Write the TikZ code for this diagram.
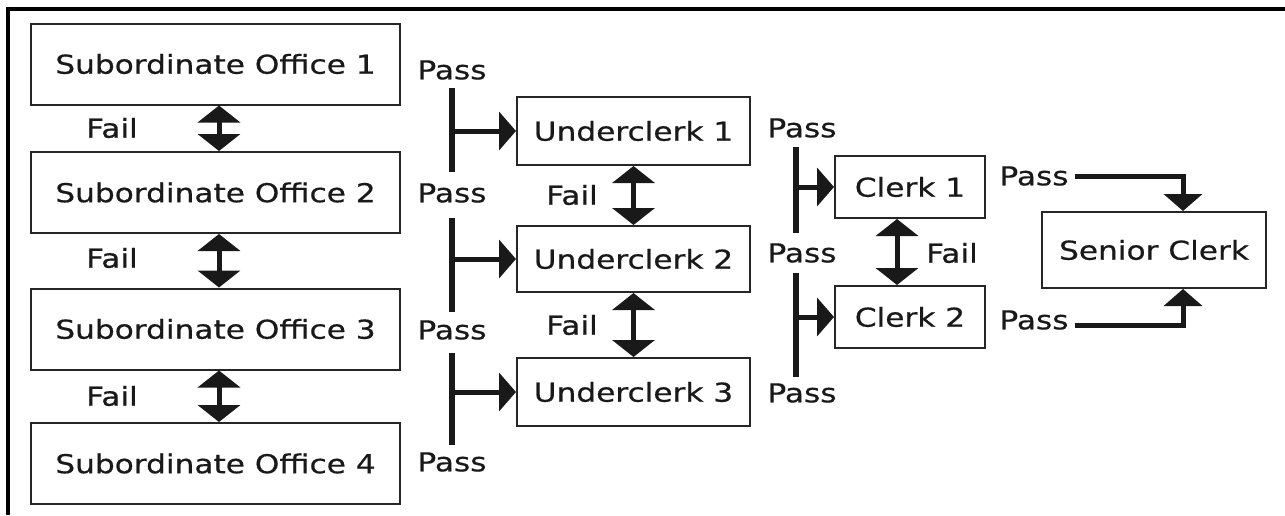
\documentclass[tikz,border=0pt]{standalone}
\usepackage{fontspec}
\setmainfont{DejaVu Sans}[FakeStretch=1.2,FakeBold=0.6]
\usetikzlibrary{arrows.meta}
\begin{document}
\begin{tikzpicture}[x=1pt,y=-1pt,
  txt/.style={font=\fontsize{26}{30}\selectfont, text=black!90},
  box/.style={txt, draw=black!85, line width=2pt, inner sep=0pt},
  lbl/.style={txt, inner sep=0pt},
  bar/.style={line width=6pt, black!90},
  flow/.style={line width=5pt, black!90, -{Triangle[width=38pt,length=17pt]}},
  dbl/.style={line width=5pt, black!90, {Triangle[width=42pt,length=17pt]}-{Triangle[width=42pt,length=17pt]}},
  frame/.style={line width=4pt, black}
]
\useasboundingbox (0,0) rectangle (1285,515);
% frame
\draw[frame] (6,9) -- (1285,9);
\draw[frame] (8,9) -- (8,515);

% subordinate offices
\node[box, minimum width=369pt, minimum height=81pt] (so1) at (215.5,64) {Subordinate Office 1};
\node[box, minimum width=369pt, minimum height=81pt] (so2) at (215.5,192.5) {Subordinate Office 2};
\node[box, minimum width=369pt, minimum height=81pt] (so3) at (215.5,329) {Subordinate Office 3};
\node[box, minimum width=369pt, minimum height=81pt] (so4) at (215.5,463.5) {Subordinate Office 4};

% underclerks
\node[box, minimum width=233pt, minimum height=68pt] (uc1) at (633.5,131) {Underclerk 1};
\node[box, minimum width=233pt, minimum height=66pt] (uc2) at (633.5,259) {Underclerk 2};
\node[box, minimum width=233pt, minimum height=68pt] (uc3) at (633.5,392) {Underclerk 3};

% clerks
\node[box, minimum width=150pt, minimum height=62pt] (c1) at (910,187) {Clerk 1};
\node[box, minimum width=150pt, minimum height=62pt] (c2) at (910,317) {Clerk 2};

% senior clerk
\node[box, minimum width=224pt, minimum height=76pt] (sc) at (1154,250) {Senior Clerk};

% fail labels
\node[lbl] (f1) at (112,128) {Fail};
\node[lbl] (f2) at (112,258) {Fail};
\node[lbl] (f3) at (112,396) {Fail};
\node[lbl] (f4) at (572,195) {Fail};
\node[lbl] (f5) at (572,325) {Fail};
\node[lbl] (f6) at (952,253) {Fail};

% pass labels
\node[lbl] (pa1) at (452,70) {Pass};
\node[lbl] (pa2) at (452,193) {Pass};
\node[lbl] (pa3) at (452,330) {Pass};
\node[lbl] (pa4) at (452,462) {Pass};
\node[lbl] (pb1) at (802,128) {Pass};
\node[lbl] (pb2) at (802,253) {Pass};
\node[lbl] (pb3) at (802,393) {Pass};
\node[lbl] (pc1) at (1034,176) {Pass};
\node[lbl] (pc2) at (1034,320) {Pass};

% fail arrows
\draw[dbl] ([xshift=3.5pt]so1.south) -- ([xshift=3.5pt]so2.north);
\draw[dbl] ([xshift=3.5pt]so2.south) -- ([xshift=3.5pt]so3.north);
\draw[dbl] ([xshift=3.5pt]so3.south) -- ([xshift=3.5pt]so4.north);
\draw[dbl] (uc1.south) -- (uc2.north);
\draw[dbl] (uc2.south) -- (uc3.north);
\draw[dbl] ([xshift=-13pt]c1.south) -- ([xshift=-13pt]c2.north);

% pass bars (left)
\coordinate (a1t) at (452,88);  \coordinate (a1b) at (452,172);
\coordinate (a2t) at (452,218); \coordinate (a2b) at (452,312);
\coordinate (a3t) at (452,353); \coordinate (a3b) at (452,445);
\draw[bar] (a1t) -- (a1b);
\draw[bar] (a2t) -- (a2b);
\draw[bar] (a3t) -- (a3b);
\draw[flow] (uc1.west -| a1t) -- (uc1.west);
\draw[flow] (uc2.west -| a2t) -- (uc2.west);
\draw[flow] (uc3.west -| a3t) -- (uc3.west);

% pass bars (middle)
\coordinate (b1t) at (796,147); \coordinate (b1b) at (796,233);
\coordinate (b2t) at (796,273); \coordinate (b2b) at (796,377);
\draw[bar] (b1t) -- (b1b);
\draw[bar] (b2t) -- (b2b);
\draw[flow] (c1.west -| b1t) -- (c1.west);
\draw[flow] (c2.west -| b2t) -- (c2.west);

% to senior clerk
\draw[flow] ([xshift=6pt]pc1.east) -| ([xshift=29pt]sc.north);
\draw[flow] ([xshift=6pt,yshift=-5pt]pc2.east) -| ([xshift=29pt]sc.south);
\end{tikzpicture}
\end{document}
